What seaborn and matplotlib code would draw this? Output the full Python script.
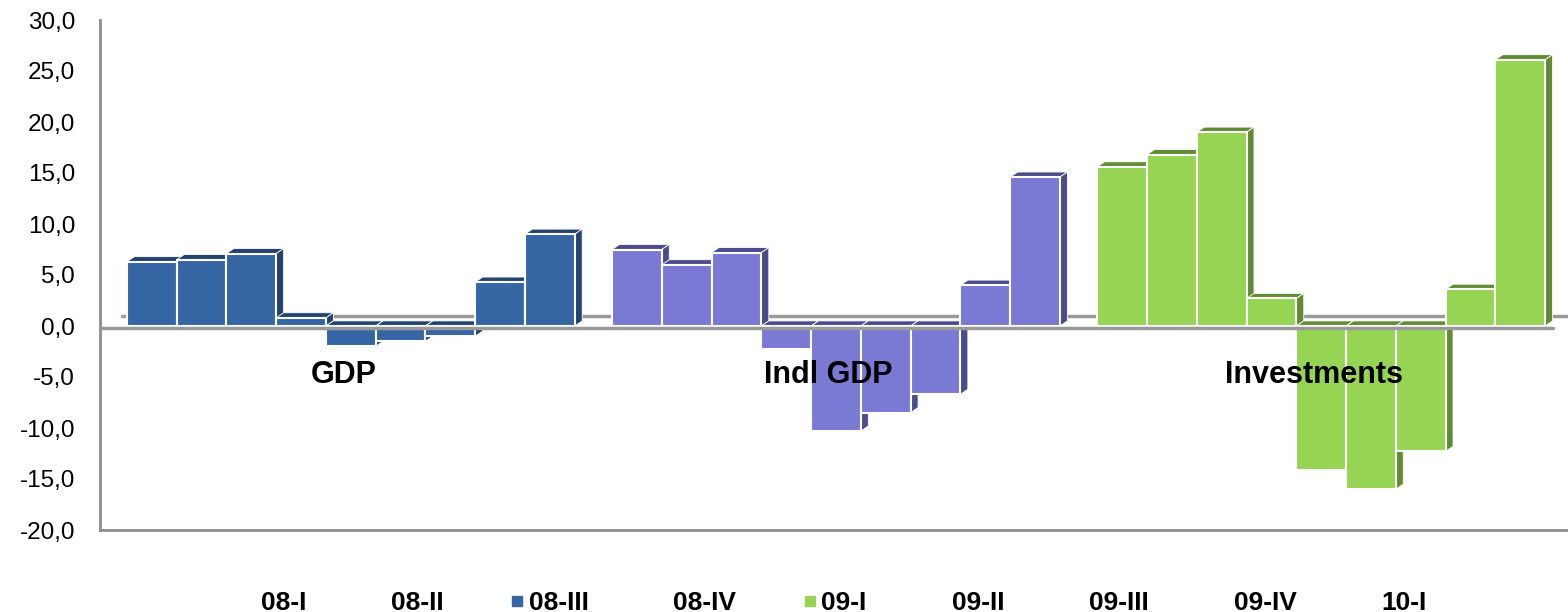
import matplotlib.pyplot as plt
from matplotlib.patches import Polygon
from matplotlib.lines import Line2D
from matplotlib.ticker import FuncFormatter
import seaborn as sns
import pandas as pd

groups = ['GDP', 'Indl GDP', 'Investments']
quarters = ['08-I', '08-II', '08-III', '08-IV', '09-I', '09-II', '09-III', '09-IV', '10-I']
gdp = [6.3, 6.5, 7.1, 0.8, -2.0, -1.5, -1.0, 4.3, 9.0]
indl_gdp = [7.5, 6.0, 7.2, -2.3, -10.3, -8.5, -6.7, 4.0, 14.6]
investments = [15.6, 16.8, 19.0, 2.7, -14.1, -16.0, -12.3, 3.6, 26.1]

front_colors = ['#3566A3', '#7A7AD4', '#96D453']
side_colors = ['#22446E', '#4C4C8C', '#628B35']
group_step = 9.75  # 9 bars + gap

rows = []
for g, vals in enumerate([gdp, indl_gdp, investments]):
    for q, v in enumerate(vals):
        rows.append({'group': groups[g], 'quarter': quarters[q],
                     'pos': g * group_step + q, 'value': v})
df = pd.DataFrame(rows)

sns.set_style('white')
plt.rcParams['font.family'] = ['Liberation Sans', 'DejaVu Sans']
plt.rcParams['text.color'] = 'black'
plt.rcParams['ytick.color'] = 'black'

fig = plt.figure(figsize=(15.68, 6.12), dpi=100)
ax = fig.add_axes([100 / 1568, 82 / 612, 1468 / 1568, 510 / 612])

sns.barplot(data=df, x='pos', y='value', hue='group', palette=front_colors,
            native_scale=True, width=1.0, dodge=False, errorbar=None, saturation=1,
            edgecolor='white', linewidth=1.5, legend=False, ax=ax, zorder=3)

# fake 3D: top and side faces for each bar
dx, dy = 0.15, 0.5
for p in list(ax.patches):
    x0 = p.get_x()
    x1 = x0 + p.get_width()
    y0 = p.get_y()
    y1 = y0 + p.get_height()
    top, bot = max(y0, y1), min(y0, y1)
    g = int((x0 + 0.5) // group_step)
    c = side_colors[g]
    top_face = Polygon([(x0, top), (x1, top), (x1 + dx, top + dy), (x0 + dx, top + dy)],
                       closed=True, facecolor=c, edgecolor='white', lw=0.6, zorder=2)
    side_face = Polygon([(x1, bot), (x1, top), (x1 + dx, top + dy), (x1 + dx, bot + dy)],
                        closed=True, facecolor=c, edgecolor='white', lw=0.6, zorder=2)
    ax.add_patch(top_face)
    ax.add_patch(side_face)

ax.set_xlim(-1.04, 28.46)
ax.set_ylim(-20, 30)

# floor lines
ax.axhline(1.0, xmin=0.015, xmax=1.0, color='#9a9a9a', lw=2.5, zorder=1)
ax.axhline(-0.2, xmin=0.0, xmax=0.99, color='#9a9a9a', lw=2.5, zorder=4)

for g, name in enumerate(groups):
    ax.text(g * group_step + 4 - 0.15, -4.8, name, ha='center', va='center',
            fontsize=22, fontweight='bold', color='black', zorder=6)

ax.set_yticks(range(-20, 31, 5))
ax.yaxis.set_major_formatter(FuncFormatter(lambda v, _: f'{v:.1f}'.replace('.', ',')))
ax.tick_params(axis='y', length=0, pad=18, labelsize=17.5, labelcolor='black')
ax.set_xticks([])
ax.set_xlabel('')
ax.set_ylabel('')
for s in ['top', 'right']:
    ax.spines[s].set_visible(False)
for s in ['left', 'bottom']:
    ax.spines[s].set_color('#8c8c8c')
    ax.spines[s].set_linewidth(2)

handles = []
for q in range(len(quarters)):
    if q == 2:
        col = front_colors[0]
    elif q == 4:
        col = front_colors[2]
    else:
        col = 'none'
    handles.append(Line2D([], [], marker='s', linestyle='none', markersize=7.5,
                          markerfacecolor=col, markeredgecolor=col))
fig.legend(handles, quarters, loc='center left', bbox_to_anchor=(243 / 1568, 9 / 612),
           ncol=9, frameon=False, prop={'weight': 'bold', 'size': 19},
           labelcolor='black', handlelength=0.45, handletextpad=0.22,
           columnspacing=2.55, borderpad=0, borderaxespad=0)

fig.savefig('out.png', dpi=100)
